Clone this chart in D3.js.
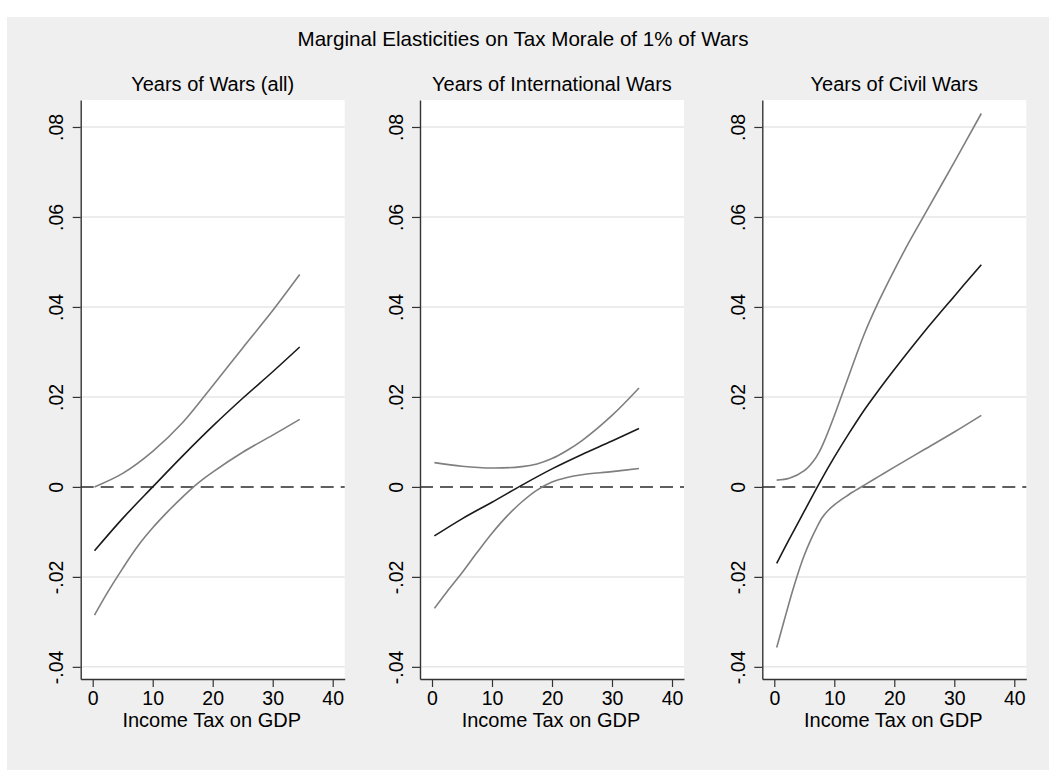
<!DOCTYPE html>
<html>
<head>
<meta charset="utf-8">
<script src="https://cdn.jsdelivr.net/npm/d3@7"></script>
<style>
  html, body { margin: 0; padding: 0; background: #ffffff; }
  svg { display: block; }
  text { font-family: "Liberation Sans", Arial, Helvetica, sans-serif; fill: #000; }
</style>
</head>
<body>
<svg id="chart" width="1049" height="770"></svg>
<script>
// ---------------- data ----------------
const mainTitle = "Marginal Elasticities on Tax Morale of 1% of Wars";
const panelTitles = ["Years of Wars (all)", "Years of International Wars", "Years of Civil Wars"];
const xAxisTitle = "Income Tax on GDP";
const xTicks = [0, 10, 20, 30, 40];
const yTicks = [-0.04, -0.02, 0, 0.02, 0.04, 0.06, 0.08];
const yTickLabels = ["-.04", "-.02", "0", ".02", ".04", ".06", ".08"];

// Panel 1: Years of Wars (all)
const allX     = [0.3, 5, 10, 15, 20, 25, 30, 34.5];
const allMid   = [-0.0142, -0.0070, 0.0000, 0.0069, 0.0135, 0.0197, 0.0256, 0.0311];
const allUpX   = [0.3, 5, 10, 15, 20, 25, 30, 34.5];
const allUp    = [0.0000, 0.0030, 0.0079, 0.0143, 0.0225, 0.0309, 0.0392, 0.0472];
const allLoX   = [0.3, 2.5, 5, 7.5, 10, 12.5, 15, 17.5, 20, 25, 30, 34.5];
const allLo    = [-0.0285, -0.0234, -0.0181, -0.0132, -0.0091, -0.0055, -0.0022, 0.0008, 0.0033, 0.0077, 0.0115, 0.0150];

// Panel 2: Years of International Wars
const intX     = [0.4, 5, 10, 15, 20, 25, 30, 34.5];
const intMid   = [-0.0109, -0.0071, -0.0034, 0.0004, 0.0040, 0.0072, 0.0102, 0.0130];
const intUpX   = [0.4, 5, 10, 15, 17.5, 20, 22.5, 25, 30, 34.5];
const intUp    = [0.0054, 0.0046, 0.0042, 0.0045, 0.0051, 0.0063, 0.0081, 0.0103, 0.0159, 0.0220];
const intLoX   = [0.4, 2.5, 5, 7.5, 10, 12.5, 15, 17.5, 20, 22.5, 25, 30, 34.5];
const intLo    = [-0.0270, -0.0233, -0.0191, -0.0146, -0.0103, -0.0065, -0.0033, -0.0007, 0.0011, 0.0021, 0.0027, 0.0034, 0.0041];

// Panel 3: Years of Civil Wars
const civX     = [0.4, 2.5, 5, 7.5, 10, 12.5, 15, 17.5, 20, 25, 30, 34.5];
const civMid   = [-0.0170, -0.0116, -0.0054, 0.0008, 0.0066, 0.0120, 0.0171, 0.0217, 0.0261, 0.0345, 0.0424, 0.0494];
const civUpX   = [0.4, 2.5, 5, 6.5, 7.5, 8.5, 10, 11, 12.5, 15, 17.5, 20, 22.5, 25, 30, 34.5];
const civUp    = [0.0015, 0.0019, 0.0036, 0.0057, 0.0078, 0.0107, 0.0158, 0.0195, 0.0250, 0.0340, 0.0415, 0.0482, 0.0545, 0.0604, 0.0722, 0.0830];
const civLoX   = [0.4, 1, 2, 3, 4, 5, 6, 7, 8, 9, 10, 11, 12, 13, 14, 15, 17.5, 20, 25, 30, 34.5];
const civLo    = [-0.0357, -0.0328, -0.0280, -0.0233, -0.0190, -0.0152, -0.0120, -0.0092, -0.0068, -0.0052, -0.0040, -0.0030, -0.0021, -0.0012, -0.0004, 0.0004, 0.0024, 0.0044, 0.0083, 0.0122, 0.0159];

const panels = [
  { title: panelTitles[0], mid: [allX, allMid], up: [allUpX, allUp], lo: [allLoX, allLo] },
  { title: panelTitles[1], mid: [intX, intMid], up: [intUpX, intUp], lo: [intLoX, intLo] },
  { title: panelTitles[2], mid: [civX, civMid], up: [civUpX, civUp], lo: [civLoX, civLo] }
];

// ---------------- layout ----------------
const svg = d3.select("#chart");
svg.append("rect").attr("x", 7).attr("y", 17).attr("width", 1042).attr("height", 753).attr("fill", "#efefef");

svg.append("text").attr("x", 523).attr("y", 46).attr("text-anchor", "middle")
  .style("font-size", "20.6px").text(mainTitle);

const panelLeft = [80.7, 420, 762.3];
const panelW = 264;
const plotTop = 100, plotBottom = 679;

const y = d3.scaleLinear().domain([-0.0427, 0.086]).range([plotBottom, plotTop]);

panels.forEach((p, i) => {
  const x0 = panelLeft[i];
  const x = d3.scaleLinear().domain([-2, 42]).range([x0, x0 + panelW]);
  const g = svg.append("g");

  // plot region
  g.append("rect").attr("x", x0).attr("y", plotTop).attr("width", panelW).attr("height", plotBottom - plotTop).attr("fill", "#ffffff");

  // gridlines
  g.selectAll("line.grid").data(yTicks.filter(v => v !== 0)).enter().append("line")
    .attr("x1", x0).attr("x2", x0 + panelW)
    .attr("y1", d => y(d)).attr("y2", d => y(d))
    .attr("stroke", "#e6e6e6").attr("stroke-width", 1.5);

  // zero reference line (dashed)
  g.append("line").attr("x1", x0).attr("x2", x0 + panelW)
    .attr("y1", y(0)).attr("y2", y(0))
    .attr("stroke", "#2b2b2b").attr("stroke-width", 1.5).attr("stroke-dasharray", "13,7");

  // curves
  const line = d3.line().x(d => x(d[0])).y(d => y(d[1])).curve(d3.curveCatmullRom.alpha(0.5));
  const pts = arr => arr[0].map((t, k) => [t, arr[1][k]]);
  g.append("path").attr("d", line(pts(p.up))).attr("fill", "none").attr("stroke", "#7f7f7f").attr("stroke-width", 1.6);
  g.append("path").attr("d", line(pts(p.lo))).attr("fill", "none").attr("stroke", "#7f7f7f").attr("stroke-width", 1.6);
  g.append("path").attr("d", line(pts(p.mid))).attr("fill", "none").attr("stroke", "#1a1a1a").attr("stroke-width", 1.6);

  // y axis
  const yAxis = d3.axisLeft(y).tickValues(yTicks).tickSize(8).tickSizeOuter(0)
    .tickFormat((d, k) => yTickLabels[k]);
  const ya = g.append("g").attr("transform", `translate(${x0},0)`).call(yAxis);
  ya.select(".domain").attr("stroke", "#333").attr("stroke-width", 1.4);
  ya.selectAll(".tick line").attr("stroke", "#333").attr("stroke-width", 1.2);
  ya.selectAll(".tick text")
    .attr("x", null).attr("dy", null)
    .attr("transform", "translate(-17.5,0) rotate(-90)")
    .attr("text-anchor", "middle")
    .style("font-size", "19.5px").style("font-family", "Liberation Sans, Arial, sans-serif").attr("fill", "#000");

  // x axis
  const xAxis = d3.axisBottom(x).tickValues(xTicks).tickSize(8).tickSizeOuter(0).tickFormat(d3.format("d"));
  const xa = g.append("g").attr("transform", `translate(0,${plotBottom})`).call(xAxis);
  xa.select(".domain").attr("stroke", "#333").attr("stroke-width", 1.4);
  xa.selectAll(".tick line").attr("stroke", "#333").attr("stroke-width", 1.2);
  xa.selectAll(".tick text").attr("y", 26).attr("dy", null)
    .style("font-size", "19.5px").style("font-family", "Liberation Sans, Arial, sans-serif").attr("fill", "#000");

  // panel title
  g.append("text").attr("x", x0 + panelW / 2).attr("y", 90.5).attr("text-anchor", "middle")
    .style("font-size", "20px").text(p.title);

  // x axis title
  g.append("text").attr("x", x0 + panelW / 2 - 1).attr("y", 726.5).attr("text-anchor", "middle")
    .style("font-size", "20px").text(xAxisTitle);
});
</script>
</body>
</html>
